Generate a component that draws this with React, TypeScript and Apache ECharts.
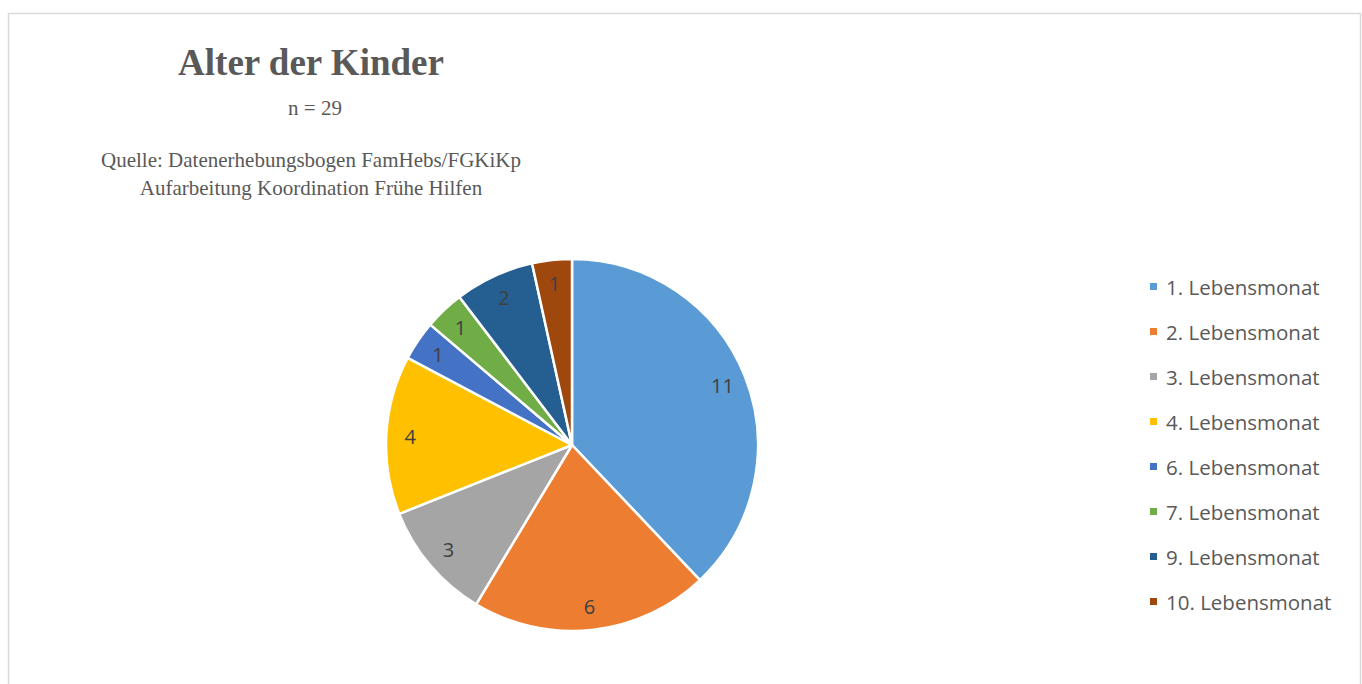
import React, { useEffect, useRef } from "react";
import * as echarts from "echarts";

const categories = [
  "1. Lebensmonat",
  "2. Lebensmonat",
  "3. Lebensmonat",
  "4. Lebensmonat",
  "6. Lebensmonat",
  "7. Lebensmonat",
  "9. Lebensmonat",
  "10. Lebensmonat",
];
const values = [11, 6, 3, 4, 1, 1, 2, 1];
const colors = ["#5B9BD5", "#ED7D31", "#A5A5A5", "#FFC000", "#4472C4", "#70AD47", "#255E91", "#9E480E"];

const titleText = "Alter der Kinder";
const nText = "n = 29";
const sourceLines = ["Quelle: Datenerhebungsbogen FamHebs/FGKiKp", "Aufarbeitung Koordination Frühe Hilfen"];

export default function App() {
  const ref = useRef<HTMLDivElement>(null);
  useEffect(() => {
    document.body.style.margin = "0";
    const chart = echarts.init(ref.current!, null, { renderer: "svg" });
    const data = categories.map((name, i) => ({ name, value: values[i], itemStyle: { color: colors[i] } }));
    chart.setOption({
      animation: false,
      backgroundColor: "#ffffff",
      graphic: [
        {
          type: "rect",
          shape: { x: 8.5, y: 13.5, width: 1352, height: 700 },
          style: { fill: "none", stroke: "#d9d9d9", lineWidth: 1.5 },
          silent: true,
        },
        {
          type: "text",
          x: 311,
          y: 62,
          style: {
            text: titleText,
            font: "bold 37px 'Liberation Serif', serif",
            fill: "#595959",
            textAlign: "center",
            textVerticalAlign: "middle",
          },
        },
        {
          type: "text",
          x: 315,
          y: 108,
          style: {
            text: nText,
            font: "21px 'Liberation Serif', serif",
            fill: "#595959",
            textAlign: "center",
            textVerticalAlign: "middle",
          },
        },
        ...sourceLines.map((t, i) => ({
          type: "text",
          x: 311,
          y: 160 + i * 28,
          style: {
            text: t,
            font: "21px 'Liberation Serif', serif",
            fill: "#595959",
            textAlign: "center",
            textVerticalAlign: "middle",
          },
        })),
      ],
      legend: {
        orient: "vertical",
        left: 1143,
        top: 271,
        icon: "rect",
        itemWidth: 9,
        itemHeight: 9,
        itemGap: 24,
        data: categories,
        textStyle: {
          fontFamily: "'Open Sans', sans-serif",
          fontSize: 20.5,
          lineHeight: 20,
          color: "#595959",
          padding: [0, 0, 0, 3],
        },
      },
      series: [
        {
          type: "pie",
          center: [572, 445],
          radius: 186,
          startAngle: 90,
          clockwise: true,
          data,
          label: { show: false },
          labelLine: { show: false },
          itemStyle: { borderColor: "#ffffff", borderWidth: 2.5 },
          emphasis: { disabled: true },
        },
        {
          type: "pie",
          center: [572, 445],
          radius: [132, 186],
          startAngle: 90,
          clockwise: true,
          silent: true,
          data: categories.map((name, i) => ({ name, value: values[i] })),
          itemStyle: { color: "transparent", borderWidth: 0 },
          label: {
            show: true,
            position: "inside",
            formatter: "{c}",
            fontFamily: "'Open Sans', sans-serif",
            fontSize: 20,
            color: "#404040",
          },
          labelLine: { show: false },
          emphasis: { disabled: true },
          legendHoverLink: false,
        },
      ],
    });
    return () => chart.dispose();
  }, []);
  return <div ref={ref} style={{ width: 1362, height: 684 }} />;
}
